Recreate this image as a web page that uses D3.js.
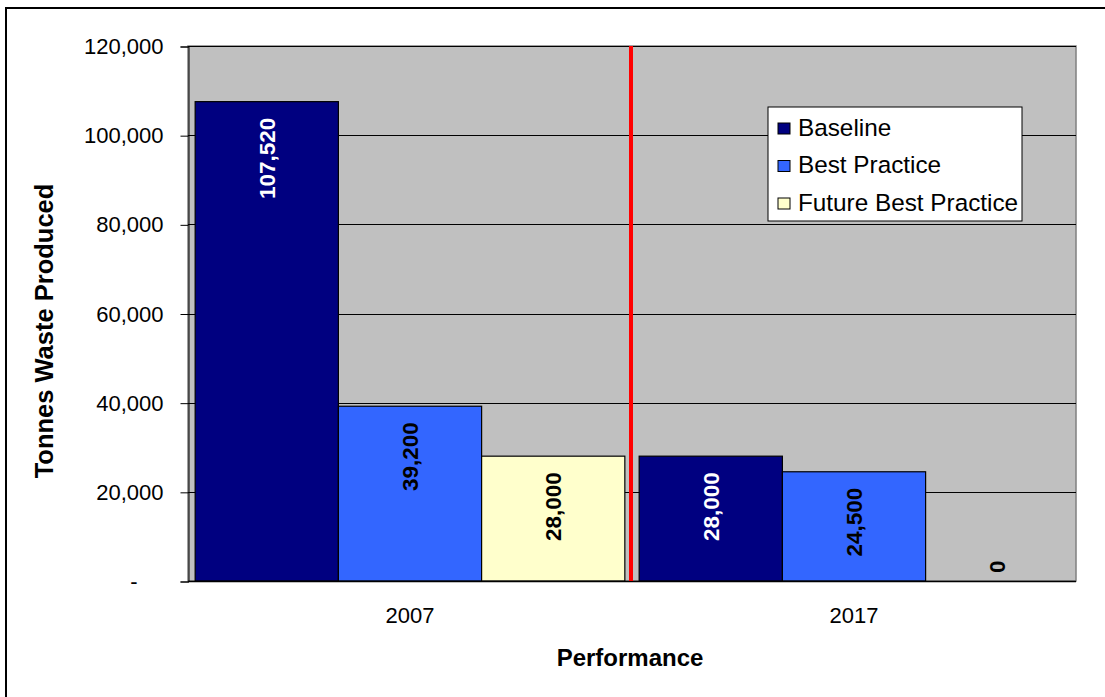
<!DOCTYPE html>
<html>
<head>
<meta charset="utf-8">
<script src="https://cdn.jsdelivr.net/npm/d3@7"></script>
<style>
	body { margin: 0; background: #fff; }
	svg text { font-family: "Liberation Sans", Arial, sans-serif; }
</style>
</head>
<body>
<div id="chart"></div>
<script>
/* Tonnes of waste produced, 2007 vs 2017 */

var categories = ["2007", "2017"];
var series = ["Baseline", "Best Practice", "Future Best Practice"];
var values2007 = [107520, 39200, 28000];
var values2017 = [28000, 24500, 0];
var yTicks = [0, 20000, 40000, 60000, 80000, 100000, 120000];

var colors = ["#000080", "#3366ff", "#ffffcc"];
var labelColors = ["#ffffff", "#000000", "#000000"];

var width = 1105,
	height = 697;

var plot = { left: 188, right: 1076, top: 46, bottom: 581 };

var svg = d3.select("#chart").append("svg")
	.attr("width", width)
	.attr("height", height);

// outer chart border (only left and top are inside the window)
svg.append("rect")
	.attr("x", 6).attr("y", 8)
	.attr("width", 1300).attr("height", 900)
	.attr("fill", "#fff")
	.attr("stroke", "#000")
	.attr("stroke-width", 2);

var x0 = d3.scaleBand().domain(categories)
	.range([plot.left, plot.right])
	.paddingInner(0).paddingOuter(0);

var x1 = d3.scaleBand().domain(series)
	.range([0, x0.bandwidth()])
	.paddingInner(0).paddingOuter(0.05);

var y = d3.scaleLinear().domain([0, 120000]).range([plot.bottom, plot.top]);

// plot background
svg.append("rect")
	.attr("x", plot.left).attr("y", plot.top)
	.attr("width", plot.right - plot.left)
	.attr("height", plot.bottom - plot.top)
	.attr("fill", "#c0c0c0")
	.attr("stroke", "#808080")
	.attr("stroke-width", 1.5);

// gridlines
svg.append("g").selectAll("line")
	.data(yTicks.filter(function(d) { return d > 0; }))
	.enter().append("line")
	.attr("x1", plot.left).attr("x2", plot.right)
	.attr("y1", function(d) { return Math.round(y(d)) + 0.5; })
	.attr("y2", function(d) { return Math.round(y(d)) + 0.5; })
	.attr("stroke", "#000")
	.attr("stroke-width", 1);

// y axis
var yAxis = d3.axisLeft(y)
	.tickValues(yTicks)
	.tickSize(8)
	.tickPadding(17)
	.tickFormat(function(d) { return d === 0 ? "-" : d3.format(",")(d); });

var gy = svg.append("g")
	.attr("transform", "translate(" + (plot.left + 0.5) + ",0.5)")
	.call(yAxis);
gy.select(".domain").attr("stroke", "#000");
gy.selectAll(".tick line").attr("stroke", "#000");
gy.selectAll(".tick text")
	.attr("font-size", 22)
	.attr("fill", "#000")
	.attr("dx", function(d) { return d === 0 ? -26 : 0; });

// bars
var data = categories.map(function(c, i) {
	var vals = i === 0 ? values2007 : values2017;
	return series.map(function(s, j) {
		return { cat: c, series: s, idx: j, value: vals[j] };
	});
});

var groups = svg.append("g").selectAll("g.group")
	.data(data)
	.enter().append("g")
	.attr("class", "group")
	.attr("transform", function(d, i) { return "translate(" + x0(categories[i]) + ",0)"; });

groups.selectAll("rect")
	.data(function(d) { return d; })
	.enter().append("rect")
	.attr("x", function(d) { return x1(d.series); })
	.attr("y", function(d) { return y(d.value); })
	.attr("width", x1.bandwidth())
	.attr("height", function(d) { return y(0) - y(d.value); })
	.attr("fill", function(d) { return colors[d.idx]; })
	.attr("stroke", "#000")
	.attr("stroke-width", 1.2);

// value labels, rotated, inside end of bar
groups.selectAll("text.val")
	.data(function(d) { return d; })
	.enter().append("text")
	.attr("class", "val")
	.attr("transform", function(d) {
		var cx = x1(d.series) + x1.bandwidth() / 2;
		var short = (y(0) - y(d.value)) < 40;
		var ty = short ? y(0) - 8 : y(d.value) + 16;
		return "translate(" + cx + "," + ty + ") rotate(-90)";
	})
	.attr("text-anchor", function(d) { return (y(0) - y(d.value)) < 40 ? "start" : "end"; })
	.attr("dy", "0.35em")
	.attr("font-size", 22.5)
	.attr("font-weight", "bold")
	.attr("fill", function(d) { return labelColors[d.idx]; })
	.text(function(d) { return d3.format(",")(d.value); });

// x axis line
svg.append("line")
	.attr("x1", plot.left).attr("x2", plot.right)
	.attr("y1", plot.bottom + 0.5).attr("y2", plot.bottom + 0.5)
	.attr("stroke", "#000").attr("stroke-width", 1.5);

// red divider between the two years
var divX = x0(categories[1]) - 1;
svg.append("line")
	.attr("x1", divX).attr("x2", divX)
	.attr("y1", plot.top).attr("y2", plot.bottom)
	.attr("stroke", "#ff0000")
	.attr("stroke-width", 4);

// x category labels
svg.append("g").selectAll("text")
	.data(categories)
	.enter().append("text")
	.attr("x", function(d) { return x0(d) + x0.bandwidth() / 2; })
	.attr("y", plot.bottom + 42)
	.attr("text-anchor", "middle")
	.attr("font-size", 22)
	.text(function(d) { return d; });

// axis titles
svg.append("text")
	.attr("x", 630).attr("y", 666)
	.attr("text-anchor", "middle")
	.attr("font-size", 24)
	.attr("font-weight", "bold")
	.text("Performance");

svg.append("text")
	.attr("transform", "translate(53,331) rotate(-90)")
	.attr("text-anchor", "middle")
	.attr("font-size", 25.5)
	.attr("font-weight", "bold")
	.text("Tonnes Waste Produced");

// legend
var legend = svg.append("g").attr("transform", "translate(768,107)");
legend.append("rect")
	.attr("width", 254).attr("height", 114)
	.attr("fill", "#fff")
	.attr("stroke", "#000")
	.attr("stroke-width", 1);

var items = legend.selectAll("g.item")
	.data(series)
	.enter().append("g")
	.attr("class", "item")
	.attr("transform", function(d, i) { return "translate(0," + (20 + i * 37.5) + ")"; });

items.append("rect")
	.attr("x", 10).attr("y", -4)
	.attr("width", 12).attr("height", 11)
	.attr("fill", function(d, i) { return colors[i]; })
	.attr("stroke", "#000")
	.attr("stroke-width", 1);

items.append("text")
	.attr("x", 30)
	.attr("dy", "0.35em")
	.attr("font-size", 24.3)
	.text(function(d) { return d; });
</script>
</body>
</html>
